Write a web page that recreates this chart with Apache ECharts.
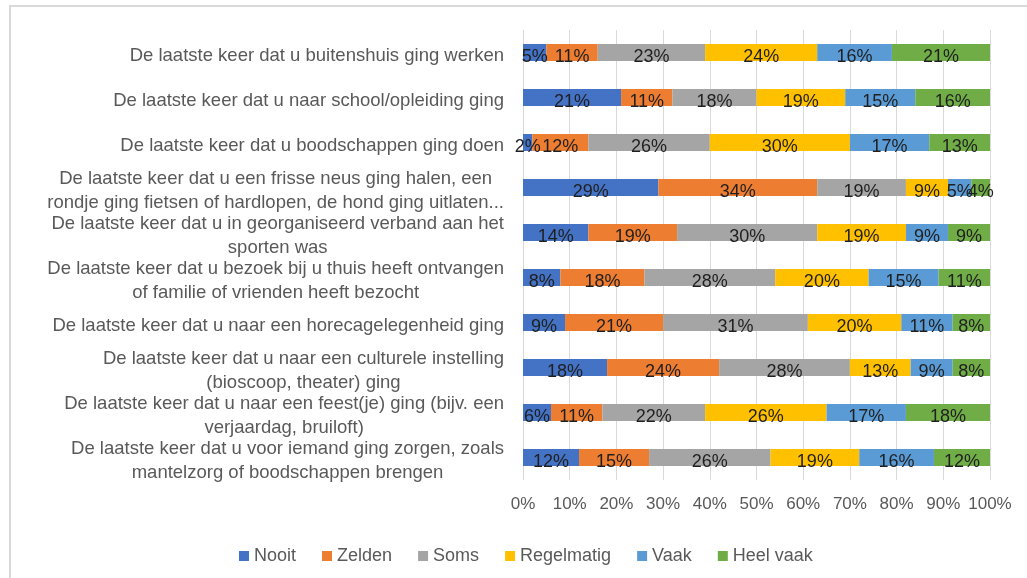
<!DOCTYPE html>
<html>
<head>
<meta charset="utf-8">
<script src="https://cdn.jsdelivr.net/npm/echarts@6/dist/echarts.min.js"></script>
<style>
  html, body { margin: 0; padding: 0; background: #ffffff; }
  #chart { width: 1027px; height: 578px; }
</style>
</head>
<body>
<div id="chart"></div>
<script>
// Activities (rows, top to bottom)
const categories = [
  "De laatste keer dat u buitenshuis ging werken",
  "De laatste keer dat u naar school/opleiding ging",
  "De laatste keer dat u boodschappen ging doen",
  "De laatste keer dat u een frisse neus ging halen, een\nrondje ging fietsen of hardlopen, de hond ging uitlaten...",
  "De laatste keer dat u in georganiseerd verband aan het\nsporten was",
  "De laatste keer dat u bezoek bij u thuis heeft ontvangen\nof familie of vrienden heeft bezocht",
  "De laatste keer dat u naar een horecagelegenheid ging",
  "De laatste keer dat u naar een culturele instelling\n(bioscoop, theater) ging",
  "De laatste keer dat u naar een feest(je) ging (bijv. een\nverjaardag, bruiloft)",
  "De laatste keer dat u voor iemand ging zorgen, zoals\nmantelzorg of boodschappen brengen"
];

// Answer shares per frequency (percent)
const nooit      = [5, 21, 2, 29, 14, 8, 9, 18, 6, 12];
const zelden     = [11, 11, 12, 34, 19, 18, 21, 24, 11, 15];
const soms       = [23, 18, 26, 19, 30, 28, 31, 28, 22, 26];
const regelmatig = [24, 19, 30, 9, 19, 20, 20, 13, 26, 19];
const vaak       = [16, 15, 17, 5, 9, 15, 11, 9, 17, 16];
const heelVaak   = [21, 16, 13, 4, 9, 11, 8, 8, 18, 12];

const seriesNames = ["Nooit", "Zelden", "Soms", "Regelmatig", "Vaak", "Heel vaak"];
const seriesData = [nooit, zelden, soms, regelmatig, vaak, heelVaak];
const seriesColors = ["#4472C4", "#ED7D31", "#A5A5A5", "#FFC000", "#5B9BD5", "#70AD47"];

const FONT = "'Liberation Sans', Arial, sans-serif";

const chart = echarts.init(document.getElementById("chart"), null, { renderer: "canvas" });

const option = {
  backgroundColor: "#ffffff",
  animation: false,
  textStyle: { fontFamily: FONT },
  graphic: [{
    type: "rect",
    silent: true,
    shape: { x: 10, y: 6, width: 1100, height: 700 },
    style: { fill: null, stroke: "#d9d9d9", lineWidth: 2 }
  }],
  legend: {
    data: seriesNames,
    left: 234,
    top: 542,
    icon: "rect",
    itemWidth: 10,
    itemHeight: 10,
    itemGap: 26,
    textStyle: { fontFamily: FONT, fontSize: 18, color: "#595959" }
  },
  grid: { left: 523, right: 37, top: 30, height: 450 },
  xAxis: {
    type: "value",
    min: 0,
    max: 100,
    interval: 10,
    axisLine: { show: false },
    axisTick: { show: false },
    splitLine: { show: true, lineStyle: { color: "#d9d9d9", width: 1 } },
    axisLabel: {
      formatter: "{value}%",
      fontFamily: FONT,
      fontSize: 17,
      color: "#595959",
      margin: 16
    }
  },
  yAxis: {
    type: "category",
    inverse: true,
    data: categories,
    axisLine: { show: false },
    axisTick: { show: false },
    axisLabel: {
      margin: 19,
      align: "right",
      padding: [7, 0, 0, 0],
      fontFamily: FONT,
      fontSize: 18.5,
      color: "#595959",
      formatter: function (value) {
        const lines = value.split("\n");
        if (lines.length === 1) return "{s|" + value + "}";
        return lines.map(function (l) { return "{c|" + l + "}"; }).join("\n");
      },
      rich: {
        s: { fontFamily: FONT, fontSize: 18.5, color: "#595959", align: "right" },
        c: { fontFamily: FONT, fontSize: 18.5, color: "#595959", align: "center", lineHeight: 24 }
      }
    }
  },
  series: seriesNames.map(function (name, i) {
    return {
      name: name,
      type: "bar",
      stack: "total",
      barWidth: 17,
      data: seriesData[i],
      itemStyle: { color: seriesColors[i] },
      label: {
        show: true,
        position: "inside",
        offset: [0, 5],
        formatter: "{c}%",
        fontFamily: FONT,
        fontSize: 18,
        color: "#1f1f1f"
      }
    };
  })
};

chart.setOption(option);
</script>
</body>
</html>
